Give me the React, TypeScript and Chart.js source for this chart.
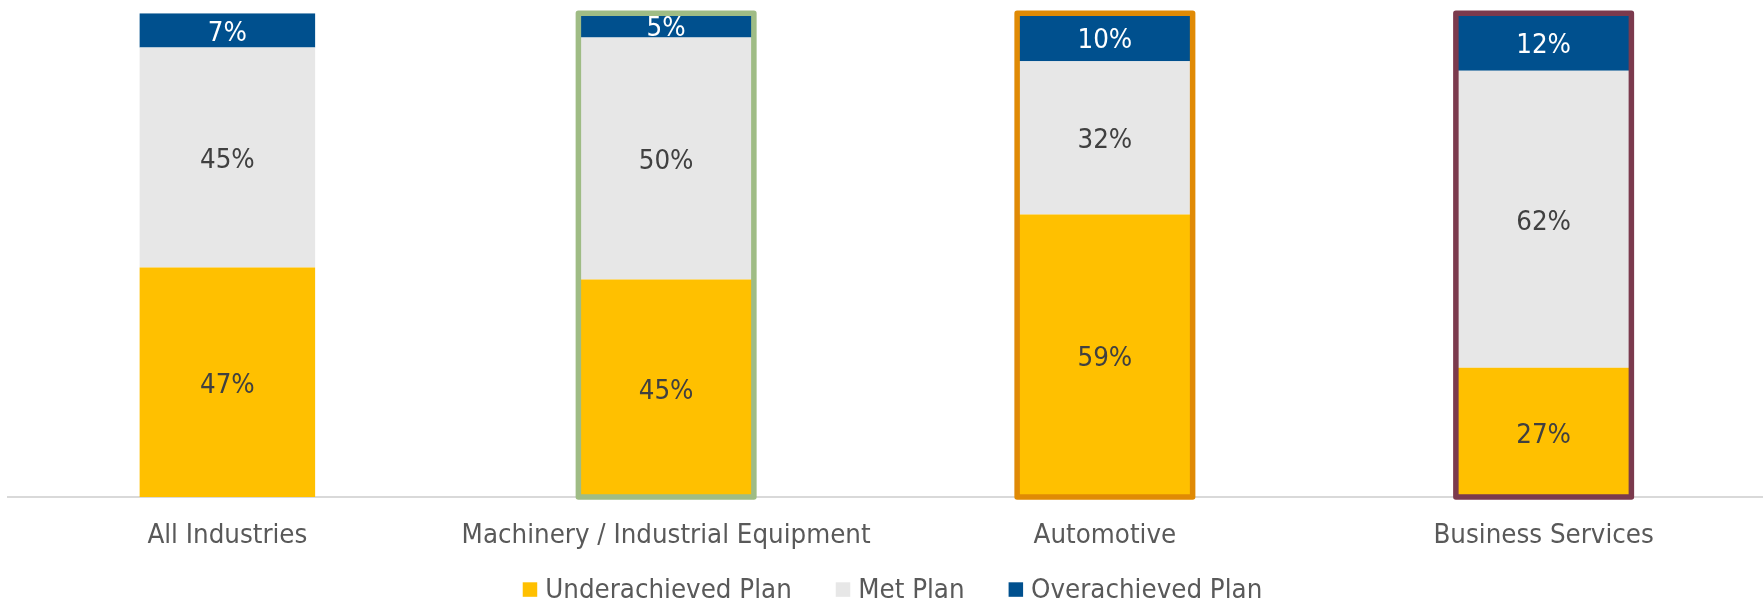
import React, { useEffect, useRef } from "react";
import { Chart, registerables } from "chart.js";

Chart.register(...registerables);

const categories = [
  "All Industries",
  "Machinery / Industrial Equipment",
  "Automotive",
  "Business Services",
];
const seriesNames = ["Underachieved Plan", "Met Plan", "Overachieved Plan"];
const underachieved = [47, 45, 59, 27];
const metPlan = [45, 50, 32, 62];
const overachieved = [7, 5, 10, 12];

const seriesColors = ["#FFC000", "#E7E7E7", "#00508E"];
const labelColors = ["#404040", "#404040", "#FFFFFF"];
const highlightColors: (string | null)[] = [null, "#9FBC85", "#E08A05", "#7B3A4D"];

const FONT = '"DejaVu Sans Condensed", "DejaVu Sans", sans-serif';
const FONT_SIZE = 27.4;

export default function App() {
  const ref = useRef<HTMLCanvasElement | null>(null);

  useEffect(() => {
    document.body.style.margin = "0";
    const canvas = ref.current;
    if (!canvas) return;

    const raw = [underachieved, metPlan, overachieved];
    const totals = categories.map((_, i) => raw.reduce((s, arr) => s + arr[i], 0));

    const highlightPlugin = {
      id: "highlight",
      afterDatasetsDraw(chart: any) {
        const ctx = chart.ctx;
        const bottomMeta = chart.getDatasetMeta(0);
        const topMeta = chart.getDatasetMeta(chart.data.datasets.length - 1);
        highlightColors.forEach((c, i) => {
          if (!c) return;
          const b: any = bottomMeta.data[i];
          const t: any = topMeta.data[i];
          const w = b.width;
          ctx.save();
          ctx.strokeStyle = c;
          ctx.lineWidth = 5.5;
          ctx.lineJoin = "round";
          ctx.strokeRect(b.x - w / 2, t.y, w, b.base - t.y);
          ctx.restore();
        });
      },
    };

    const dataLabelPlugin = {
      id: "dataLabels",
      afterDatasetsDraw(chart: any) {
        const ctx = chart.ctx;
        ctx.save();
        ctx.font = `${FONT_SIZE}px ${FONT}`;
        ctx.textAlign = "center";
        ctx.textBaseline = "middle";
        chart.data.datasets.forEach((ds: any, k: number) => {
          const meta = chart.getDatasetMeta(k);
          meta.data.forEach((el: any, i: number) => {
            const y = (el.y + el.base) / 2 + 3.5;
            ctx.fillStyle = labelColors[k];
            ctx.fillText(`${raw[k][i]}%`, el.x, y);
          });
        });
        ctx.restore();
      },
    };

    const legendPlugin = {
      id: "customLegend",
      afterDraw(chart: any) {
        const ctx = chart.ctx;
        const area = chart.chartArea;
        ctx.save();
        ctx.font = `${FONT_SIZE}px ${FONT}`;
        const box = 14.5;
        const gap = 8;
        const spacing = 44;
        const widths = seriesNames.map((n) => ctx.measureText(n).width);
        const total =
          widths.reduce((s, w) => s + box + gap + w, 0) + spacing * (seriesNames.length - 1);
        let x = (area.left + area.right) / 2 - total / 2 + 7;
        const baseline = chart.height - 3.7;
        const boxTop = chart.height - 19.7;
        seriesNames.forEach((n, k) => {
          ctx.fillStyle = seriesColors[k];
          ctx.fillRect(x, boxTop, box, box);
          x += box + gap;
          ctx.fillStyle = "#595959";
          ctx.textAlign = "left";
          ctx.textBaseline = "alphabetic";
          ctx.fillText(n, x, baseline);
          x += widths[k] + spacing;
        });
        ctx.restore();
      },
    };

    const chart = new Chart(canvas, {
      type: "bar",
      data: {
        labels: categories,
        datasets: raw.map((arr, k) => ({
          label: seriesNames[k],
          data: arr.map((v, i) => (v / totals[i]) * 100),
          backgroundColor: seriesColors[k],
          borderWidth: 0,
          barPercentage: 0.4,
          categoryPercentage: 1,
        })),
      },
      options: {
        animation: false,
        responsive: false,
        devicePixelRatio: 1,
        layout: { padding: { left: 8, right: 0, top: 13.3, bottom: 28 } },
        plugins: {
          legend: { display: false },
          tooltip: { enabled: false },
        },
        scales: {
          x: {
            stacked: true,
            grid: { display: false, drawTicks: false },
            border: { display: true, color: "#D9D9D9", width: 2 },
            ticks: {
              color: "#595959",
              padding: 22,
              font: { family: FONT, size: FONT_SIZE },
              maxRotation: 0,
              autoSkip: false,
            },
          },
          y: {
            stacked: true,
            display: false,
            min: 0,
            max: 100,
          },
        },
      },
      plugins: [highlightPlugin, dataLabelPlugin, legendPlugin],
    });

    return () => chart.destroy();
  }, []);

  return (
    <div style={{ width: 1763, height: 602, background: "#FFFFFF" }}>
      <canvas ref={ref} width={1763} height={602} style={{ display: "block" }} />
    </div>
  );
}
